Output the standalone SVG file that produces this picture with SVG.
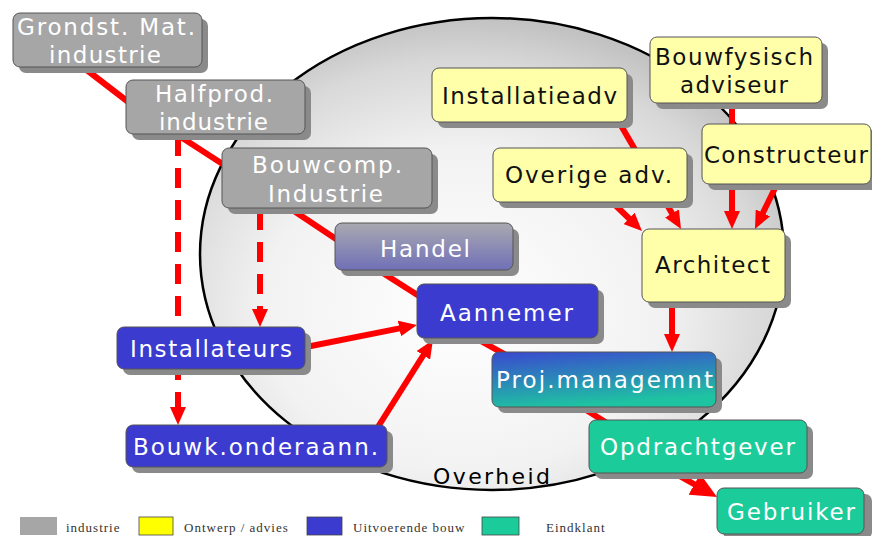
<svg xmlns="http://www.w3.org/2000/svg" width="872" height="536" viewBox="0 0 872 536">
<defs>
  <radialGradient id="gEll" cx="0.45" cy="0.62" r="0.62">
    <stop offset="0" stop-color="#ffffff"/>
    <stop offset="0.55" stop-color="#f2f2f2"/>
    <stop offset="0.85" stop-color="#d8d8d8"/>
    <stop offset="1" stop-color="#c2c2c2"/>
  </radialGradient>
  <linearGradient id="gHandel" x1="0" y1="0" x2="0" y2="1">
    <stop offset="0" stop-color="#a9a9b0"/>
    <stop offset="1" stop-color="#7070b8"/>
  </linearGradient>
  <linearGradient id="gProj" x1="0" y1="0" x2="0.3" y2="1">
    <stop offset="0" stop-color="#3a48d0"/>
    <stop offset="1" stop-color="#1ec3a2"/>
  </linearGradient>
  <marker id="ah" markerUnits="userSpaceOnUse" markerWidth="18" markerHeight="16" refX="8" refY="8" orient="auto">
    <path d="M0,0 L18,8 L0,16 z" fill="#ff0000"/>
  </marker>
  <marker id="ahL" markerUnits="userSpaceOnUse" markerWidth="26" markerHeight="24" refX="12" refY="12" orient="auto">
    <path d="M0,0 L26,12 L0,24 z" fill="#ff0000"/>
  </marker>
</defs>
<style>
  .sh { fill: #8a8a8a; }
  .box { stroke: #555; stroke-width: 1; }
  .gray { fill: #a6a6a6; }
  .yel { fill: #ffffaa; }
  .blue { fill: #3b3bcf; }
  .teal { fill: #1ccb9a; }
  .t { font-family: "DejaVu Sans", Verdana, sans-serif; font-size: 23px; text-anchor: start; }
  .w { fill: #ffffff; }
  .k { fill: #111111; }
  .ln { stroke: #ff0000; stroke-width: 6; fill: none; }
  .dash { stroke-dasharray: 20 12; }
  .lg { font-family: "Liberation Serif", "Times New Roman", serif; font-size: 13px; fill: #333; letter-spacing: 1px; }
</style>
<rect width="872" height="536" fill="#ffffff"/>
<g id="overheid">
  <ellipse cx="492" cy="254" rx="292" ry="236" fill="url(#gEll)" stroke="#000" stroke-width="2.5"/>
  <text x="433" y="484" font-family="DejaVu Sans, sans-serif" font-size="22" fill="#000" textLength="117" lengthAdjust="spacing">Overheid</text>
</g>
<g id="connectors">
  <line class="ln" x1="75" y1="61" x2="140" y2="111"/>
  <line class="ln" x1="170" y1="130" x2="235" y2="172"/>
  <line class="ln" x1="285" y1="205" x2="345" y2="245"/>
  <line class="ln" x1="375" y1="268" x2="430" y2="303"/>
  <line class="ln" x1="470" y1="335" x2="515" y2="360"/>
  <line class="ln" x1="570" y1="400" x2="615" y2="428"/>
  <line class="ln" x1="660" y1="465" x2="704.8" y2="490.2" marker-end="url(#ahL)"/>
  <line class="ln dash" x1="178" y1="136" x2="178" y2="415" marker-end="url(#ah)"/>
  <line class="ln dash" x1="260" y1="210" x2="260" y2="317" marker-end="url(#ah)"/>
  <line class="ln" x1="306" y1="347" x2="407.2" y2="326.9" marker-end="url(#ah)"/>
  <line class="ln" x1="376" y1="430" x2="427.6" y2="348.5" marker-end="url(#ah)"/>
  <line class="ln" x1="612" y1="110" x2="676" y2="220.3" marker-end="url(#ah)"/>
  <line class="ln" x1="610" y1="200" x2="634.8" y2="224" marker-end="url(#ah)"/>
  <line class="ln" x1="732" y1="100" x2="732" y2="219" marker-end="url(#ah)"/>
  <line class="ln" x1="780" y1="178" x2="759.4" y2="220" marker-end="url(#ah)"/>
  <line class="ln" x1="672" y1="300" x2="672" y2="342" marker-end="url(#ah)"/>
</g>
<g id="n-grondst">
  <rect class="sh" x="19" y="19" width="189" height="54" rx="7"/>
  <rect class="box gray" x="13" y="13" width="189" height="54" rx="7"/>
  <text class="t w" x="17" y="35" textLength="178" lengthAdjust="spacing">Grondst. Mat.</text>
  <text class="t w" x="49" y="63" textLength="112" lengthAdjust="spacing">industrie</text>
</g>
<g id="n-halfprod">
  <rect class="sh" x="132" y="86" width="179" height="54" rx="7"/>
  <rect class="box gray" x="126" y="80" width="179" height="54" rx="7"/>
  <text class="t w" x="155" y="102" textLength="118" lengthAdjust="spacing">Halfprod.</text>
  <text class="t w" x="159" y="130" textLength="109" lengthAdjust="spacing">industrie</text>
</g>
<g id="n-bouwcomp">
  <rect class="sh" x="228" y="154" width="210" height="60" rx="7"/>
  <rect class="box gray" x="222" y="148" width="210" height="60" rx="7"/>
  <text class="t w" x="252" y="173" textLength="150" lengthAdjust="spacing">Bouwcomp.</text>
  <text class="t w" x="268" y="202" textLength="115" lengthAdjust="spacing">Industrie</text>
</g>
<g id="n-handel">
  <rect class="sh" x="341" y="229" width="178" height="47" rx="7"/>
  <rect class="box" fill="url(#gHandel)" x="335" y="223" width="178" height="47" rx="7"/>
  <text class="t w" x="380" y="257" textLength="90" lengthAdjust="spacing">Handel</text>
</g>
<g id="n-aannemer">
  <rect class="sh" x="423" y="290" width="181" height="54" rx="7"/>
  <rect class="box blue" x="417" y="284" width="181" height="54" rx="7"/>
  <text class="t w" x="440" y="321" textLength="133" lengthAdjust="spacing">Aannemer</text>
</g>
<g id="n-installateurs">
  <rect class="sh" x="123" y="333" width="188" height="42" rx="7"/>
  <rect class="box blue" x="117" y="327" width="188" height="42" rx="7"/>
  <text class="t w" x="130" y="357" textLength="162" lengthAdjust="spacing">Installateurs</text>
</g>
<g id="n-bouwk">
  <rect class="sh" x="132" y="431" width="261" height="42" rx="7"/>
  <rect class="box blue" x="126" y="425" width="261" height="42" rx="7"/>
  <text class="t w" x="133" y="455" textLength="245" lengthAdjust="spacing">Bouwk.onderaann.</text>
</g>
<g id="n-proj">
  <rect class="sh" x="498" y="358" width="224" height="55" rx="7"/>
  <rect class="box" fill="url(#gProj)" x="492" y="352" width="224" height="55" rx="7"/>
  <text class="t w" x="496" y="388" textLength="217" lengthAdjust="spacing">Proj.managemnt</text>
</g>
<g id="n-opdrachtgever">
  <rect class="sh" x="595" y="426" width="218" height="53" rx="7"/>
  <rect class="box teal" x="589" y="420" width="218" height="53" rx="7"/>
  <text class="t w" x="600" y="455" textLength="195" lengthAdjust="spacing">Opdrachtgever</text>
</g>
<g id="n-gebruiker">
  <rect class="sh" x="723" y="494" width="149" height="45" rx="7"/>
  <rect class="box teal" x="717" y="488" width="147" height="46" rx="7"/>
  <text class="t w" x="727" y="520" textLength="128" lengthAdjust="spacing">Gebruiker</text>
</g>
<g id="n-installatieadv">
  <rect class="sh" x="438" y="74" width="195" height="54" rx="7"/>
  <rect class="box yel" x="432" y="68" width="195" height="54" rx="7"/>
  <text class="t k" x="442" y="104" textLength="175" lengthAdjust="spacing">Installatieadv</text>
</g>
<g id="n-overige">
  <rect class="sh" x="499" y="154" width="194" height="54" rx="7"/>
  <rect class="box yel" x="493" y="148" width="194" height="54" rx="7"/>
  <text class="t k" x="505" y="183" textLength="167" lengthAdjust="spacing">Overige adv.</text>
</g>
<g id="n-bouwfysisch">
  <rect class="sh" x="656" y="43" width="172" height="66" rx="7"/>
  <rect class="box yel" x="650" y="37" width="172" height="66" rx="7"/>
  <text class="t k" x="655" y="65" textLength="158" lengthAdjust="spacing">Bouwfysisch</text>
  <text class="t k" x="680" y="93" textLength="108" lengthAdjust="spacing">adviseur</text>
</g>
<g id="n-constructeur">
  <rect class="sh" x="708" y="130" width="170" height="60" rx="7"/>
  <rect class="box yel" x="702" y="124" width="169" height="60" rx="7"/>
  <text class="t k" x="704" y="163" textLength="164" lengthAdjust="spacing">Constructeur</text>
</g>
<g id="n-architect">
  <rect class="sh" x="648" y="235" width="143" height="73" rx="7"/>
  <rect class="box yel" x="642" y="229" width="143" height="73" rx="7"/>
  <text class="t k" x="655" y="273" textLength="115" lengthAdjust="spacing">Architect</text>
</g>
<g id="legend">
  <rect x="20" y="517" width="37" height="18" fill="#a6a6a6"/>
  <text class="lg" x="66" y="532">industrie</text>
  <rect x="139" y="517" width="34" height="18" fill="#ffff00" stroke="#444" stroke-width="0.8"/>
  <text class="lg" x="184" y="532">Ontwerp / advies</text>
  <rect x="307" y="517" width="35" height="18" fill="#3b3bcf" stroke="#444" stroke-width="0.8"/>
  <text class="lg" x="353" y="532">Uitvoerende bouw</text>
  <rect x="482" y="517" width="37" height="18" fill="#1ccb9a" stroke="#444" stroke-width="0.8"/>
  <text class="lg" x="546" y="532">Eindklant</text>
</g>
</svg>
